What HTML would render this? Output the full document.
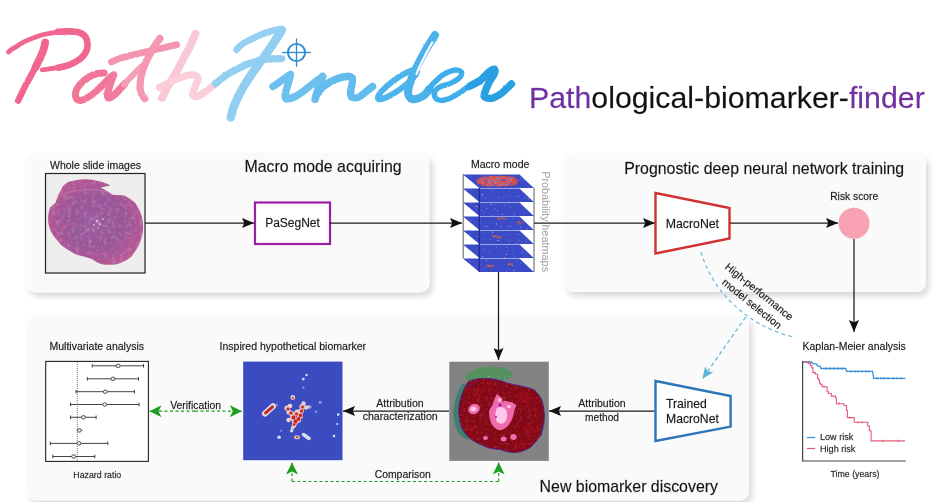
<!DOCTYPE html>
<html><head><meta charset="utf-8">
<style>
html,body{margin:0;padding:0;background:#fff;}
body{width:940px;height:502px;overflow:hidden;position:relative;}
svg{position:absolute;left:0;top:0;display:block;filter:blur(0.45px);}
text{font-family:"Liberation Sans",sans-serif;stroke:#333;stroke-width:0.28px;stroke-opacity:0.6;}
.nostroke{stroke:none;}
</style></head><body>
<svg width="940" height="502" viewBox="0 0 940 502">
<defs>
  <filter id="sh" x="-10%" y="-10%" width="125%" height="130%">
    <feGaussianBlur in="SourceAlpha" stdDeviation="3"/>
    <feOffset dx="3" dy="4" result="b"/>
    <feComponentTransfer><feFuncA type="linear" slope="0.16"/></feComponentTransfer>
    <feMerge><feMergeNode/><feMergeNode in="SourceGraphic"/></feMerge>
  </filter>
  <marker id="ah" viewBox="0 0 12 10" refX="12" refY="5" markerWidth="12" markerHeight="10" markerUnits="userSpaceOnUse" orient="auto">
    <path d="M0,0 L12,5 L0,10 L2.2,5 Z" fill="#111"/>
  </marker>
  <marker id="ahg" viewBox="0 0 12 12" refX="12" refY="6" markerWidth="12" markerHeight="12" markerUnits="userSpaceOnUse" orient="auto">
    <path d="M0,0 L12,6 L0,12 L3,6 Z" fill="#1e9e1e"/>
  </marker>
  <marker id="ahb" viewBox="0 0 12 10" refX="12" refY="5" markerWidth="12" markerHeight="10" markerUnits="userSpaceOnUse" orient="auto">
    <path d="M0,0 L12,5 L0,10 L3,5 Z" fill="#5ab4dc"/>
  </marker>
  <linearGradient id="lg" x1="0" y1="0" x2="520" y2="0" gradientUnits="userSpaceOnUse">
    <stop offset="0" stop-color="#f0648a"/>
    <stop offset="0.18" stop-color="#f27b9c"/>
    <stop offset="0.30" stop-color="#f7a3b8"/>
    <stop offset="0.40" stop-color="#fbcad6"/>
    <stop offset="0.43" stop-color="#9dd3f2"/>
    <stop offset="0.60" stop-color="#7fc6ee"/>
    <stop offset="0.80" stop-color="#55b3e8"/>
    <stop offset="1" stop-color="#2e9ee0"/>
  </linearGradient>
  <radialGradient id="tis" cx="0.5" cy="0.5" r="0.5">
    <stop offset="0" stop-color="#9a5c9e"/>
    <stop offset="0.6" stop-color="#985698"/>
    <stop offset="1" stop-color="#b45896"/>
  </radialGradient>
  <filter id="mottle" x="0" y="0" width="100%" height="100%">
    <feTurbulence type="fractalNoise" baseFrequency="0.25" numOctaves="3" seed="4" result="n"/>
    <feColorMatrix in="n" type="matrix" values="0 0 0 0 0.76  0 0 0 0 0.40  0 0 0 0 0.64  0 0 0 0.7 -0.33" result="c"/>
    <feComposite in="c" in2="SourceGraphic" operator="in" result="ci"/>
    <feMerge><feMergeNode in="SourceGraphic"/><feMergeNode in="ci"/></feMerge>
  </filter>
  <clipPath id="wsiclip"><rect x="46" y="174" width="99" height="99"/></clipPath>
  <filter id="mottle2" x="0" y="0" width="100%" height="100%">
    <feTurbulence type="fractalNoise" baseFrequency="0.35" numOctaves="2" seed="9" result="n"/>
    <feColorMatrix in="n" type="matrix" values="0 0 0 0 0.70  0 0 0 0 0.04  0 0 0 0 0.10  0 0 0 1.0 -0.5" result="c"/>
    <feComposite in="c" in2="SourceGraphic" operator="in" result="ci"/>
    <feMerge><feMergeNode in="SourceGraphic"/><feMergeNode in="ci"/></feMerge>
  </filter>
  <filter id="speck" x="0" y="0" width="100%" height="100%">
    <feTurbulence type="fractalNoise" baseFrequency="0.5" numOctaves="2" seed="2" result="n"/>
    <feColorMatrix in="n" type="matrix" values="0 0 0 0 0.65  0 0 0 0 0.72  0 0 0 0 1  5 0 0 0 -3.5" result="c"/>
    <feComposite in="c" in2="SourceGraphic" operator="in" result="ci"/>
    <feMerge><feMergeNode in="SourceGraphic"/><feMergeNode in="ci"/></feMerge>
  </filter>
  <filter id="speck2" x="0" y="0" width="100%" height="100%">
    <feTurbulence type="fractalNoise" baseFrequency="0.6" numOctaves="2" seed="5" result="n"/>
    <feColorMatrix in="n" type="matrix" values="0 0 0 0 1  0 0 0 0 0.8  0 0 0 0 0.8  5 0 0 0 -3.0" result="c"/>
    <feComposite in="c" in2="SourceGraphic" operator="in" result="ci"/>
    <feMerge><feMergeNode in="SourceGraphic"/><feMergeNode in="ci"/></feMerge>
  </filter>
  <filter id="soft" x="-20%" y="-20%" width="140%" height="140%"><feGaussianBlur stdDeviation="1.5"/></filter>
  <filter id="rough" x="-5%" y="-10%" width="110%" height="120%">
    <feTurbulence type="fractalNoise" baseFrequency="0.9" numOctaves="2" seed="7" result="t"/>
    <feDisplacementMap in="SourceGraphic" in2="t" scale="1.8" xChannelSelector="R" yChannelSelector="G"/>
  </filter>
  <filter id="patchy" x="0" y="0" width="100%" height="100%">
    <feTurbulence type="fractalNoise" baseFrequency="0.7" numOctaves="2" seed="11" result="n"/>
    <feColorMatrix in="n" type="matrix" values="0 0 0 0 0  0 0 0 0 0  0 0 0 0 0  5 0 0 0 -1.7" result="a"/>
    <feComposite in="SourceGraphic" in2="a" operator="in"/>
  </filter>
</defs>

<!-- ===== LOGO ===== -->
<g fill="none" stroke-linecap="round" stroke-linejoin="round" filter="url(#rough)">
  <!-- P -->
  <path d="M8.5,52 C11,49.5 14,47.5 16.9,46.2 C22,42.5 28,39.8 33.9,37.7 C39,35.5 45,33.8 50.8,33.1 C56,32 62,31.4 67.7,31.4 C72,31.4 76.5,31.6 79.6,32.6 C83,34 85.5,36 86.3,38.5 C87.6,41.5 87.8,45 87.2,48.7 C86,52.5 84,55.5 81.2,58 C77.5,61 73.5,63.3 69.4,64.8 C64.5,66.5 59.5,67.6 54.2,68.2 C50,68.9 46,69.5 42.3,69.9" stroke="#f0668e" stroke-width="4.8"/>
  <path d="M58,31.8 C62,31.4 67.7,31.4 67.7,31.4 C72,31.4 76.5,31.6 79.6,32.6 C83,34 85.5,36 86.3,38.5 C87.6,41.5 87.8,45 87.2,48.7 C86,52.5 84,55.5 81.2,58 C77.5,61 73.5,63.3 69.4,64.8 C66,66 62,67 58,67.7" stroke="#f0668e" stroke-width="6.6"/>
  <path d="M45.2,42.5 C44.5,46 44,48.5 43.2,50.4 C41,57 38,62 35.5,67.3 C32,73 30,78 27.1,82.5 C24,88 22,93 19.5,97.8 L18.2,100.6" stroke="#f0668e" stroke-width="6.4"/>
  <path d="M45.2,42.5 C44.5,46 44,48.5 43.2,50.4 C41,57 38,62 35.5,67.3" stroke="#f0668e" stroke-width="7.8"/>
  <!-- a -->
  <path d="M104,73 C97,72.5 90,75.5 84,80.5 C79,85 76,89 75.5,93 C75,97.5 76.5,100.5 80.5,100.5 C86,99.5 92,95 97,90.5 C102,86 106,81.5 110.5,77" stroke="#f27698" stroke-width="7.0"/>
  <path d="M113.5,75 C111.5,80 109.5,86 108,91.5 C107,95.5 107.5,97.5 109,97.8 C112,97.5 116,93.5 120,89 L124.5,84" stroke="#f27a9c" stroke-width="7.4"/>
  <path d="M124,84.5 C129,79 135,72.5 141.5,66.5" stroke="#f5a0b6" stroke-width="6.0"/>
  <!-- t -->
  <path d="M111.4,62 C117,59 123,57 128.9,55.9 C137,54 145,52 152.8,50.3 C161,48.5 169,46.5 176.7,44.7" stroke="#f594ae" stroke-width="6.7"/>
  <path d="M160,38.4 C157,42 155,45.5 152.8,48.7 C150,54 147,59 144.8,64.7 C143,69 141.8,73 140.9,77.4 C140.2,81 140,85 140,88.6 C140.5,92 141.5,94.5 143.2,96.5 L144.8,98.6" stroke="#f597b0" stroke-width="7.2"/>
  <!-- h -->
  <path d="M195.4,33.8 C193.5,38 191.5,43 189.8,47.1 C186,54 182,61 178.7,67.8 C175,74.5 171,81 167.5,87 L162,98" stroke="#f9c8d4" stroke-width="7.9"/>
  <path d="M159.6,87.5 C164,85 169,82.5 173.9,80.5 C178,78.5 182.5,76.5 186.7,75.5 C190,74.8 194,74.8 196.2,75.6 C198.5,77 198.5,78.5 197.8,80.5 C196.5,82.5 195.5,85.5 194.6,88.6 C193.5,91 192.5,93 192.5,94.9 C193.5,96.5 195.5,96.8 197.8,96.5 C201,95 204,92.5 207.4,90.2 L215.3,84" stroke="#fbcfd9" stroke-width="7.2"/>
  <!-- F connector / crossbar -->
  <path d="M215.5,83.5 C219,81 222,78 225.1,76 C230,72.5 235,70 240.2,67.5 C244,65.5 248,63.8 251.6,62.8 C256,61.3 259,60.4 262.9,59.6 C268,58.8 275,58.6 281.8,58.6" stroke="#93cff1" stroke-width="7.2"/>
  <path d="M236.5,49.6 C239,46.5 241.5,44.5 244,43 C248,40.5 252.5,38.2 257.3,36.3 C262,34 267,32 272.4,30.7 C275.5,29.8 278.5,29 281.5,29" stroke="#94d0f2" stroke-width="6.7"/>
  <path d="M281.8,30 C280.5,32.5 279.5,34.5 278,36.3 C275.5,40.5 273,44 270.5,47.7 C267.5,52 264.5,56.5 261,60.9 C258,65.5 254.5,70 251.6,74.2 C248.5,79 245,84 242.1,89.3 C239.5,94 237,99 234.6,104.4 C233,108.5 231.8,113 230.8,117.4" stroke="#92cef1" stroke-width="8.6"/>
  <!-- i -->
  <path d="M273,86.5 C279,82.5 285,78 290.6,74.5 C289.8,78 289,81 288,84 C286.8,88 285.8,91.5 285.2,94.5 C285,96.5 285.3,98 286.4,99 C289.5,98.8 292.5,97.8 295.5,96.5 C299,94.5 302,92.5 305,90 C310,86 316,81 322.6,76.5" stroke="#6ec0ee" stroke-width="7.4"/>
  <!-- n -->
  <path d="M322.6,76.5 C321.5,80 320,84 318.5,88 C317.3,91.5 316,95 315.1,99.2" stroke="#6abfee" stroke-width="7.6"/>
  <path d="M316.5,95 C318.5,91.5 321,88.5 324,86 C328,83 332.5,80.5 337,78.8 C341,77.3 345,76.5 349,76.3 C351.5,76.8 352.8,78.5 352.5,81 C352,84.5 351.3,88 350.7,91 C350.4,93.5 350.5,95.5 351.6,97 C354,98.2 356.5,98 358.5,97.3 C361.5,95.5 364.5,93 367.5,90.5 L372.6,86.5" stroke="#62bcee" stroke-width="7.4"/>
  <!-- d -->
  <ellipse cx="397.5" cy="84.5" rx="24" ry="5.4" transform="rotate(-36 397.5 84.5)" stroke="#4fb4ec" stroke-width="6"/>
  <path d="M435,35 C431.5,40.5 428,46 424.5,52 C420,60 416,68 412.5,76 C410,82.5 408.2,88 408,92.5 C408.3,96 410,98.5 412.5,99.3 C417,99.6 421,97.5 424.5,95 C426.5,93 428,91 429.5,89" stroke="#4cb2eb" stroke-width="8"/>
  <path d="M432.2,42.5 C428,50 423,59 419,68 L416.5,74" stroke="#ffffff" stroke-width="2.2"/>
  <!-- e -->
  <path d="M429,89 C430.5,87 432,85 433.4,83.3 C436.5,80.5 439.5,77.5 442.4,75.2 C445.5,73 448.5,71.5 451.4,70.8 C454,70 456.5,69.8 458.5,70.3 C460.5,71 462,72 461.7,73.4 C461.5,75.5 460.5,76.8 459.4,77.9 C457.5,79.5 456,80.5 454,81.5 C451.5,83 449,84 446.9,84.6 C444.5,85.3 442.5,85.8 440.6,86.5 C438.5,87.5 436.5,88.8 435.3,90.5 C434,92.5 433.6,95 435.2,97.6 C436.7,99.5 438.5,100.4 440.6,100.4 C443.5,100.6 446.5,99.8 449.6,98.5 C453.5,96.8 457,94.6 460.3,92.3 C463.5,90 466.5,87.7 470.2,85.1" stroke="#40aeea" stroke-width="5.4"/>
  <!-- r -->
  <path d="M469,86.5 C473,84.5 477,82.5 481,80 C484,77 487,73.5 490,71 C491.5,69.8 493,69 494.5,69.2 C495.5,70.8 494.8,73.5 493.2,75.8 C490.5,79.5 488.5,83 487,87 C485.5,90.5 484.3,93.5 484,96.2 C485.5,98.3 489.5,98.6 493.7,97.8 C497,96.5 500.2,94.5 503.5,91.7 C506.2,89 508.8,86.5 511.4,84" stroke="#2a9fe4" stroke-width="7.4"/>
</g>
<!-- crosshair -->
<g stroke="#2a8ad2" fill="none">
  <circle cx="296.5" cy="52.5" r="8.6" stroke-width="1.9"/>
  <line x1="282.2" y1="52.5" x2="310.9" y2="52.5" stroke-width="1.3"/>
  <line x1="296.5" y1="38.5" x2="296.5" y2="66.9" stroke-width="1.3"/>
</g>
<text x="529" y="108.4" font-size="30.3" fill="#111"><tspan fill="#7030a0" stroke="#7030a0">Path</tspan>ological-biomarker-<tspan fill="#7030a0" stroke="#7030a0">finder</tspan></text>

<!-- ===== PANELS ===== -->
<g filter="url(#sh)" fill="#fafafa">
  <rect x="26" y="153" width="403.5" height="139.2" rx="9"/>
  <rect x="564.5" y="153.5" width="361.5" height="138.5" rx="9"/>
  <rect x="27" y="315.5" width="722" height="185" rx="9"/>
</g>

<!-- ===== TOP LEFT ===== -->
<text x="50" y="168.5" font-size="10.5" fill="#111">Whole slide images</text>
<text x="244.4" y="171.7" font-size="15.9" fill="#111">Macro mode acquiring</text>
<rect x="45.5" y="173.5" width="99.5" height="99.5" fill="#eeeeee" stroke="#222" stroke-width="1.2"/>
<g clip-path="url(#wsiclip)">
<path id="tissue" d="M58.5,194.8 L62.6,186.5 C66,183 68,182 70.9,181.3 C76,180 80,179.3 85.4,179.3 C92,179.5 96,180.5 99.9,181.3 C104,182.5 108,184 110.3,185.5 L101,187.5 L108.2,191.7 C110,193 111,194 112.4,194.8 C117,195 121,195.2 124.8,195.8 C129,198 132,200 135.2,203.1 C138,207 140,211 141.4,215.5 C143,220 143.3,225 143,230 C142.5,235 141,240 139.3,244.5 C137,249 134,253 131,256.9 C127,260 122,262.5 116.5,264.2 C111,265 106,265 102,264.2 C98,263 95,261 91.6,259 C87,257 82,256 77.1,254.9 C71,252 65,248 60.6,244.5 C57,240 53,236 51.3,232.1 C49,228 48.3,224 48.1,219.6 C48,215 49,211 50.2,207.2 L55.4,203.1 C56.5,200 57.5,197 58.5,194.8 Z" fill="url(#tis)" filter="url(#mottle)"/>
<path d="M60,196 C70,190 85,189 100,190 C106,191 110,193 112,195" fill="none" stroke="#c27ab2" stroke-width="1.2" opacity="0.7"/>
<g fill="#e6c6e0" opacity="0.8">
<circle cx="97" cy="221" r="1.6"/><circle cx="100" cy="224" r="1.2"/><circle cx="94" cy="225" r="1"/><circle cx="103" cy="219" r="0.9"/><circle cx="92" cy="219" r="0.8"/><circle cx="98" cy="228" r="0.8"/><circle cx="106" cy="226" r="0.8"/><circle cx="88" cy="230" r="0.7"/><circle cx="110" cy="232" r="0.7"/>
</g>
<path d="M62,228 C66,225 72,223 76,224" stroke="#c0609e" stroke-width="2" fill="none" opacity="0.6"/>
</g>
<line x1="145" y1="223" x2="254" y2="223" stroke="#1a1a1a" stroke-width="1.25" marker-end="url(#ah)"/>
<rect x="255" y="202.5" width="75" height="41.5" fill="#fff" stroke="#9b1fa6" stroke-width="2.2"/>
<text x="292.5" y="227.3" font-size="12" fill="#111" text-anchor="middle">PaSegNet</text>
<line x1="330" y1="223" x2="462" y2="223" stroke="#1a1a1a" stroke-width="1.25" marker-end="url(#ah)"/>

<!-- ===== MACRO STACK ===== -->
<text x="500.2" y="168" font-size="10.5" fill="#111" text-anchor="middle">Macro mode</text>
<g id="stack">
  <rect x="463" y="174" width="71" height="98" fill="#fff"/>
  <g fill="#3a4cc8" filter="url(#speck)">
    <path d="M463,174.5 L519.5,174.5 L533.8,188 L479.3,188 Z"/>
    <path d="M463,188.5 L519.5,188.5 L533.8,202 L479.3,202 Z"/>
    <path d="M463,202.5 L519.5,202.5 L533.8,216 L479.3,216 Z"/>
    <path d="M463,216.5 L519.5,216.5 L533.8,230 L479.3,230 Z"/>
    <path d="M463,230.5 L519.5,230.5 L533.8,244 L479.3,244 Z"/>
    <path d="M463,244.5 L519.5,244.5 L533.8,258 L479.3,258 Z"/>
    <path d="M463,258.5 L519.5,258.5 L533.8,272 L479.3,272 Z"/>
  </g>
  <ellipse cx="497" cy="181.2" rx="20" ry="5" fill="#c8b8e0" opacity="0.55"/>
  <path d="M478,178 C482,175.5 490,175.3 496,176 C503,175.3 510,175.8 515,177.3 C519.5,179 518.5,183 515.5,185 C510,186.6 503,186.9 496,186.6 C489,186.9 482,186.6 479,185 C476,183 476,180 478,178 Z" fill="#e2483a" filter="url(#patchy)"/>
  <g fill="#4a58c8" opacity="0.8"><ellipse cx="486" cy="181" rx="2" ry="1"/><ellipse cx="503" cy="180" rx="2.5" ry="1"/><ellipse cx="510" cy="184" rx="2" ry="0.8"/><ellipse cx="495" cy="185" rx="2" ry="0.8"/></g>
  <g fill="#e0603a" opacity="0.9" filter="url(#patchy)">
    <ellipse cx="519.5" cy="222.5" rx="3" ry="2"/>
    <ellipse cx="497" cy="237" rx="6" ry="1.4" transform="rotate(8 497 237)"/>
    <ellipse cx="501" cy="218.5" rx="5" ry="0.9"/>
    <ellipse cx="490" cy="266" rx="4" ry="1.2"/>
    <ellipse cx="510" cy="264" rx="3" ry="1.2"/>
  </g>
  <g stroke="#5a5a6a" stroke-width="1" fill="none">
    <line x1="463.2" y1="174" x2="463.2" y2="258.5"/>
    <line x1="534" y1="188" x2="534" y2="272"/>
  </g>
  <line x1="479.3" y1="188" x2="479.3" y2="272" stroke="#1c2a8a" stroke-width="1.2"/>
</g>
<text transform="translate(541.8,171.2) rotate(90)" font-size="10.8" fill="#a0a0a0" class="nostroke">Probability heatmaps</text>
<line x1="534" y1="223" x2="655" y2="223" stroke="#1a1a1a" stroke-width="1.25" marker-end="url(#ah)"/>
<line x1="498.5" y1="272" x2="498.5" y2="360" stroke="#1a1a1a" stroke-width="1.25" marker-end="url(#ah)"/>

<!-- ===== TOP RIGHT ===== -->
<text x="624.2" y="173.6" font-size="15.9" fill="#111">Prognostic deep neural network training</text>
<path d="M655.5,193 L729.5,208 L729.5,238.5 L655.5,253.5 Z" fill="#fff" stroke="#d03232" stroke-width="2.4"/>
<text x="692.4" y="227.7" font-size="12.3" fill="#111" text-anchor="middle">MacroNet</text>
<line x1="730" y1="223" x2="838" y2="223" stroke="#1a1a1a" stroke-width="1.25" marker-end="url(#ah)"/>
<text x="854.2" y="199.8" font-size="10.3" fill="#111" text-anchor="middle">Risk score</text>
<circle cx="854" cy="223.2" r="15.5" fill="#f7a1b2"/>
<line x1="854" y1="239" x2="854" y2="332" stroke="#1a1a1a" stroke-width="1.25" marker-end="url(#ah)"/>

<!-- dashed arc & arrow -->
<path d="M701,252 C712,290 745,325 793,337" fill="none" stroke="#6dbcdc" stroke-width="1.2" stroke-dasharray="4,3"/>
<line x1="745.7" y1="317" x2="702.4" y2="379" stroke="#5ab4dc" stroke-width="1.2" stroke-dasharray="4,3" marker-end="url(#ahb)"/>
<text transform="translate(724.3,268) rotate(39)" font-size="10.5" fill="#111">High-performance</text>
<text transform="translate(721.3,283.5) rotate(39)" font-size="10.5" fill="#111">model selection</text>

<!-- ===== KM ===== -->
<text x="802.5" y="350" font-size="10.5" fill="#111">Kaplan-Meier analysis</text>
<path d="M802.6,361 L802.6,461 L905.8,461" fill="none" stroke="#444" stroke-width="1.2"/>
<path d="M803,362 L811.7,362 L812.9,363.8 L816.4,363.8 L817.6,366.1 L819.9,366.1 L821.1,368.5 L845.6,368.5 L846.8,371.4 L872.6,371.4 L873.7,378.4 L905.3,378.4" fill="none" stroke="#3a8cd8" stroke-width="1.3"/>
<path d="M803,362 L808.2,362 L808.2,363.2 L810.5,363.2 L810.5,365.5 L811.7,365.5 L811.7,367.9 L812.9,367.9 L812.9,372.6 L815.2,372.6 L815.2,374.3 L817.6,374.3 L817.6,378.4 L818.6,378.4 L818.6,380 L819.5,380 L819.5,383.1 L820.3,383.1 L820.3,384.2 L822,384.2 L822,386.8 L827.1,386.8 L827.1,391.8 L828.5,391.8 L828.5,393.5 L831.3,393.5 L831.3,396.1 L835.5,396.1 L835.5,397.8 L836.4,397.8 L836.4,403.7 L844,403.7 L844,405.5 L846.5,405.5 L846.5,410.5 L847.4,410.5 L847.4,417.6 L854.2,417.6 L854.2,422.3 L867.7,422.3 L867.7,426 L869.4,426 L869.4,430.8 L871.1,430.8 L871.1,440.9 L904.9,440.9" fill="none" stroke="#e05a78" stroke-width="1.1"/>
<g stroke="#3a8cd8" stroke-width="0.9"><line x1="826" y1="367.2" x2="826" y2="369.8"/><line x1="830" y1="367.2" x2="830" y2="369.8"/><line x1="834" y1="367.2" x2="834" y2="369.8"/><line x1="838" y1="367.2" x2="838" y2="369.8"/><line x1="842" y1="367.2" x2="842" y2="369.8"/><line x1="851" y1="370.09999999999997" x2="851" y2="372.7"/><line x1="855" y1="370.09999999999997" x2="855" y2="372.7"/><line x1="858" y1="370.09999999999997" x2="858" y2="372.7"/><line x1="862" y1="370.09999999999997" x2="862" y2="372.7"/><line x1="866" y1="370.09999999999997" x2="866" y2="372.7"/><line x1="869" y1="370.09999999999997" x2="869" y2="372.7"/><line x1="877" y1="377.09999999999997" x2="877" y2="379.7"/><line x1="881" y1="377.09999999999997" x2="881" y2="379.7"/><line x1="884" y1="377.09999999999997" x2="884" y2="379.7"/><line x1="888" y1="377.09999999999997" x2="888" y2="379.7"/><line x1="893" y1="377.09999999999997" x2="893" y2="379.7"/><line x1="897" y1="377.09999999999997" x2="897" y2="379.7"/><line x1="901" y1="377.09999999999997" x2="901" y2="379.7"/></g><g stroke="#e05a78" stroke-width="0.9"><line x1="809" y1="361.9" x2="809" y2="364.5"/><line x1="824" y1="385.5" x2="824" y2="388.1"/><line x1="839" y1="402.4" x2="839" y2="405.0"/><line x1="850" y1="416.3" x2="850" y2="418.90000000000003"/><line x1="858" y1="421.0" x2="858" y2="423.6"/><line x1="862" y1="421.0" x2="862" y2="423.6"/><line x1="883" y1="439.59999999999997" x2="883" y2="442.2"/><line x1="898" y1="439.59999999999997" x2="898" y2="442.2"/></g>
<line x1="806.8" y1="437.5" x2="815.2" y2="437.5" stroke="#3a8fdc" stroke-width="1.2"/>
<line x1="806.8" y1="448.5" x2="815.2" y2="448.5" stroke="#e05a78" stroke-width="1.2"/>
<text x="820" y="440" font-size="9.1" fill="#222">Low risk</text>
<text x="820" y="452" font-size="9.1" fill="#222">High risk</text>
<text x="855" y="477.3" font-size="8.8" fill="#222" text-anchor="middle">Time (years)</text>

<!-- ===== BOTTOM PANEL ===== -->
<text x="49.5" y="349.8" font-size="10.5" fill="#111">Multivariate analysis</text>
<rect x="45.7" y="361.4" width="102.7" height="100" fill="#fff" stroke="#222" stroke-width="1.1"/>
<line x1="77.3" y1="362" x2="77.3" y2="461" stroke="#555" stroke-width="0.8" stroke-dasharray="1,1"/>
<g stroke="#444" stroke-width="1" fill="#fff">
  <path d="M92.2,365.8 H143.5 M92.2,364 V367.6 M143.5,364 V367.6"/><ellipse cx="118.1" cy="365.8" rx="2" ry="1.7"/>
  <path d="M87.4,378.8 H138.5 M87.4,377 V380.6 M138.5,377 V380.6"/><ellipse cx="112.9" cy="378.8" rx="2" ry="1.7"/>
  <path d="M76,391.7 H134.4 M76,389.9 V393.5 M134.4,389.9 V393.5"/><ellipse cx="105.3" cy="391.7" rx="2" ry="1.7"/>
  <path d="M70.5,404.5 H139 M70.5,402.7 V406.3 M139,402.7 V406.3"/><ellipse cx="104.8" cy="404.5" rx="2" ry="1.7"/>
  <path d="M70.5,417.3 H96.1 M70.5,415.5 V419.1 M96.1,415.5 V419.1"/><ellipse cx="83.5" cy="417.3" rx="2" ry="1.7"/>
  <path d="M76.7,430.4 H82.4"/><ellipse cx="79.4" cy="430.4" rx="2" ry="1.7"/>
  <path d="M50.3,443.4 H107.8 M50.3,441.6 V445.2 M107.8,441.6 V445.2"/><ellipse cx="78.9" cy="443.4" rx="2" ry="1.7"/>
  <path d="M52.8,456.5 H94.8 M52.8,454.7 V458.3 M94.8,454.7 V458.3"/><ellipse cx="73.7" cy="456.5" rx="2" ry="1.7"/>
</g>
<text x="97.3" y="477.9" font-size="8.8" fill="#222" text-anchor="middle">Hazard ratio</text>

<line x1="195" y1="411.2" x2="149.5" y2="411.2" stroke="#1e9e1e" stroke-width="1.2" stroke-dasharray="3,2.5" marker-end="url(#ahg)"/>
<line x1="195" y1="411.2" x2="241.8" y2="411.2" stroke="#1e9e1e" stroke-width="1.2" stroke-dasharray="3,2.5" marker-end="url(#ahg)"/>
<text x="195.6" y="408.6" font-size="10.4" fill="#111" text-anchor="middle">Verification</text>

<text x="219.5" y="350" font-size="10.55" fill="#111">Inspired hypothetical biomarker</text>
<rect x="243.2" y="361.6" width="99.3" height="98.6" fill="#3b4cc0"/>
<g stroke-linecap="round" stroke-linejoin="round">
  <path d="M265,413.5 L273,406.3" stroke="#e8d8dc" stroke-width="6"/>
  <path d="M265.5,413 L272.5,406.8" stroke="#c0282c" stroke-width="3"/>
  <g fill="#e6d2d6"><circle cx="292.8" cy="397.5" r="2.4"/><circle cx="287" cy="408" r="2.6"/><circle cx="290" cy="406" r="2.3"/><circle cx="289" cy="412" r="2.6"/><circle cx="292" cy="414" r="2.8"/><circle cx="293" cy="418" r="3"/><circle cx="295" cy="422" r="3"/><circle cx="294" cy="425.5" r="2.4"/><circle cx="298" cy="420" r="3"/><circle cx="300" cy="416" r="3"/><circle cx="301" cy="411" r="2.8"/><circle cx="302" cy="406.5" r="2.6"/><circle cx="303.5" cy="403.5" r="2.2"/><circle cx="306" cy="407.5" r="2.2"/><circle cx="309" cy="407" r="1.8"/><circle cx="297" cy="412" r="2.5"/><circle cx="288.5" cy="420" r="2.2"/><circle cx="292.5" cy="428" r="1.8"/></g>
<g fill="#f0a898"><circle cx="288" cy="409" r="2.0999999999999996"/><circle cx="291" cy="413" r="2.3"/><circle cx="293.5" cy="417.5" r="2.5999999999999996"/><circle cx="295.5" cy="421.5" r="2.5999999999999996"/><circle cx="298.5" cy="419" r="2.5999999999999996"/><circle cx="300.5" cy="415.5" r="2.5"/><circle cx="301.5" cy="411" r="2.3"/><circle cx="302.5" cy="407" r="2.0999999999999996"/><circle cx="296.5" cy="414" r="2.0999999999999996"/><circle cx="294" cy="424.5" r="1.9"/><circle cx="292.8" cy="397.8" r="1.6"/></g>
<g fill="#c0262a"><circle cx="288" cy="409" r="1.4"/><circle cx="291" cy="413" r="1.6"/><circle cx="293.5" cy="417.5" r="1.9"/><circle cx="295.5" cy="421.5" r="1.9"/><circle cx="298.5" cy="419" r="1.9"/><circle cx="300.5" cy="415.5" r="1.8"/><circle cx="301.5" cy="411" r="1.6"/><circle cx="302.5" cy="407" r="1.4"/><circle cx="296.5" cy="414" r="1.4"/><circle cx="294" cy="424.5" r="1.2"/><circle cx="292.8" cy="397.8" r="0.9"/></g>
  <path d="M303.5,434.5 L309,438.5" stroke="#dcdcec" stroke-width="3.5"/>
  <ellipse cx="297" cy="437.2" rx="3" ry="2" fill="#e8c8c8"/>
  <ellipse cx="297" cy="437.2" rx="1.5" ry="1" fill="#c04040"/>
</g>
<g fill="#d6dcf4">
  <circle cx="291.7" cy="430.8" r="1.7"/>
  <circle cx="279.1" cy="437.2" r="1.8"/>
  <circle cx="303.3" cy="379.1" r="1.4"/>
  <circle cx="306.5" cy="375" r="1.2"/>
  <circle cx="338.2" cy="414.6" r="1.3"/>
  <circle cx="337.1" cy="423.9" r="1"/>
  <circle cx="334" cy="436.1" r="1.3"/>
</g>
<g fill="#8c9ae0">
  <circle cx="303.3" cy="387.6" r="1.2"/>
  <circle cx="320.2" cy="402.3" r="1.5"/>
  <circle cx="316" cy="411.8" r="1.2"/>
  <circle cx="281.2" cy="430.8" r="1"/>
  <circle cx="310.5" cy="407" r="1.3"/>
  <circle cx="277" cy="405" r="1"/>
</g>
<line x1="449" y1="411" x2="343" y2="411" stroke="#1a1a1a" stroke-width="1.25" marker-end="url(#ah)"/>
<text x="400" y="407.2" font-size="10.5" fill="#111" text-anchor="middle">Attribution</text>
<text x="400.2" y="420.1" font-size="10.65" fill="#111" text-anchor="middle">characterization</text>

<rect x="449.3" y="361.7" width="99.5" height="99.2" fill="#838383"/>
<path d="M465,377 C468,372 472,370 476,369 L480,366.5 L486,368 L491,366 L497,367.5 L503,367 L508,370 L513.5,373.5 L511,377.5 C506,380.5 500,381 494,380 C486,379.5 478,380 470,383 Z" fill="#55905e" filter="url(#speck)"/>
<path d="M463,383 C458,390 455,398 453.5,411.3 C453.5,420 455.5,428 459,434 C462,437 466,440 469,440 L465,432 C461,424 459.5,415 460,406 C461,398 463,391 467,385 Z" fill="#3f7f6e"/>
<path d="M540,398 C543,405 545.5,412 545,420 C544.5,428 543,432 541,436 L539,432 C541,425 541.5,418 541,410 Z" fill="#3a7a7a"/>
<path d="M468.4,381.4 C475,379 481,378 487.6,378.2 C495,379 502,381 508.9,383.6 C513,384.5 516,385 519.6,385.7 C525,387 530,388 534.5,390 C538,394 540.5,397 541.9,400.6 C543.5,406 544.5,412 544.1,417.7 C543.5,424 542.5,429 540.9,434.7 C537.5,440 534,444 530.2,447.5 C525,450.5 520,452 515.3,452.8 C510,452.5 505,451 500.4,449.6 C496,449 491,448.5 487.6,447.5 C481,445 475,442 470.6,439 C466,435 463,430.5 461,426.2 C459.5,420 458.5,414 458.8,409.1 C459.5,403 460.5,398 462,394.2 C464,389 466,385 468.4,381.4 Z" fill="#820912" stroke="#4a2090" stroke-width="1" filter="url(#mottle2)"/>
<g fill="#f06aae">
<path d="M497.2,395 L499.5,397 L501.5,398.5 L502.5,403 L505,401.5 L508.9,402.5 L512,403 L515.5,405.5 L514,409 L513.2,412.3 L512.5,416 L511,419.8 L509,423 L506.8,426.2 L503.5,428.5 L500.4,429.4 L497,428.5 L494,426.2 L492,423 L490.8,419.8 L490,415.5 L489.7,411.3 L491,408.5 L492.9,405.9 L494,402.5 L495.1,399.5 Z" stroke="#f06aae" stroke-width="1.5" stroke-linejoin="round"/>
<ellipse cx="474" cy="409" rx="6" ry="5" transform="rotate(-25 474 409)"/>
<ellipse cx="485.5" cy="438" rx="2.5" ry="2"/>
<ellipse cx="503.6" cy="439" rx="3" ry="2.5"/>
<ellipse cx="513.5" cy="437" rx="3.2" ry="3"/>
</g>
<g fill="#ffc8ea">
<path d="M497,408 C500,406 504,407 506,410 C508,414 507,419 505,422 C502,425 498,424 496.5,421 C495,417 495,411 497,408 Z"/>
<ellipse cx="473.5" cy="409" rx="3" ry="2.5"/>
<ellipse cx="499.5" cy="400" rx="1.5" ry="2"/>
<ellipse cx="509" cy="406.5" rx="2" ry="1.5"/>
</g>
<g fill="#b01020" opacity="0.35" filter="url(#soft)">
<ellipse cx="478" cy="393" rx="6" ry="4"/><ellipse cx="525" cy="398" rx="7" ry="5"/><ellipse cx="530" cy="430" rx="6" ry="5"/><ellipse cx="470" cy="428" rx="5" ry="4"/><ellipse cx="520" cy="444" rx="6" ry="3"/>
</g>
<g fill="#6a1aa8" opacity="0.9">
<circle cx="500" cy="405" r="1.5"/><circle cx="496" cy="417" r="1"/><circle cx="470" cy="385" r="1.2"/><circle cx="475" cy="382" r="1"/><circle cx="492" cy="380" r="1"/>
</g>
<line x1="654.5" y1="411" x2="549" y2="411" stroke="#1a1a1a" stroke-width="1.25" marker-end="url(#ah)"/>
<text x="602" y="407.2" font-size="10.5" fill="#111" text-anchor="middle">Attribution</text>
<text x="602" y="420.7" font-size="10.2" fill="#111" text-anchor="middle">method</text>

<path d="M655.5,381 L730.6,396 L730.6,426.6 L655.5,441 Z" fill="#fff" stroke="#2e74b8" stroke-width="2.4"/>
<text x="666" y="408.2" font-size="12.2" fill="#111">Trained</text>
<text x="666" y="422.9" font-size="12.2" fill="#111">MacroNet</text>

<path d="M292,481.5 H498.7" fill="none" stroke="#1e9e1e" stroke-width="1.2" stroke-dasharray="3,2.5"/>
<line x1="292" y1="481.5" x2="292" y2="462.5" stroke="#1e9e1e" stroke-width="1.2" stroke-dasharray="3,2.5" marker-end="url(#ahg)"/>
<line x1="498.7" y1="481.5" x2="498.7" y2="462.5" stroke="#1e9e1e" stroke-width="1.2" stroke-dasharray="3,2.5" marker-end="url(#ahg)"/>
<text x="402.7" y="477.5" font-size="10.4" fill="#111" text-anchor="middle">Comparison</text>

<text x="539.6" y="492.2" font-size="15.9" fill="#111">New biomarker discovery</text>
</svg>
</body></html>
